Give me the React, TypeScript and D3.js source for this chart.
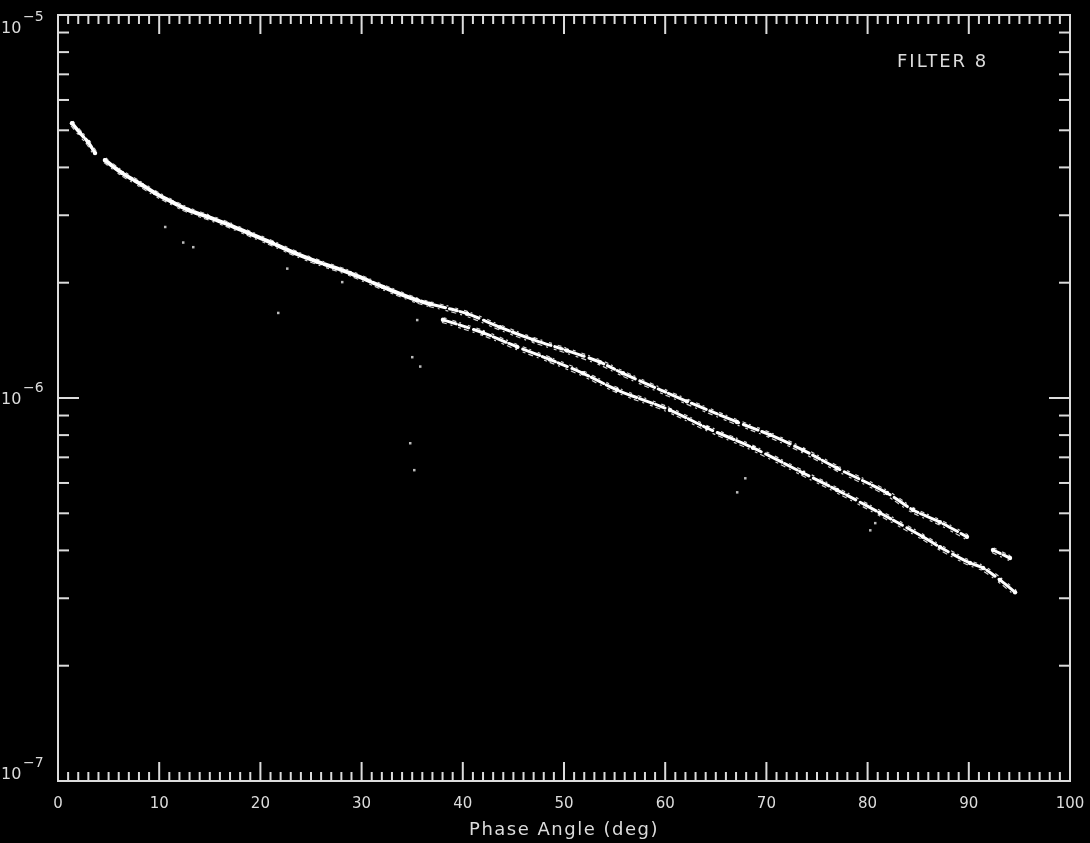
import React from 'react';
import * as d3 from 'd3';

// phase angle (deg), reflectance
const trunkHead: [number, number][] = [
  [1.38, 5.22e-6], [2.17, 4.92e-6], [2.96, 4.66e-6], [3.66, 4.36e-6]
];
const trunkMain: [number, number][] = [
  [4.64, 4.18e-6], [6.32, 3.87e-6], [8.3, 3.6e-6], [9.58, 3.43e-6], [11.26, 3.25e-6],
  [12.85, 3.1e-6], [14.82, 2.97e-6], [16.8, 2.84e-6], [18.77, 2.7e-6], [21.15, 2.54e-6],
  [23.42, 2.39e-6], [25.59, 2.27e-6], [28.85, 2.12e-6], [32.11, 1.95e-6], [35.47, 1.8e-6],
  [36.76, 1.76e-6]
];
const upperBranch: [number, number][] = [
  [36.76, 1.76e-6], [40.42, 1.66e-6], [43.68, 1.53e-6], [46.94, 1.42e-6], [50.3, 1.33e-6],
  [53.56, 1.24e-6], [55.83, 1.16e-6], [62.15, 9.8e-7], [67.09, 8.66e-7], [70.36, 8.01e-7],
  [73.62, 7.31e-7], [76.98, 6.56e-7], [81.92, 5.65e-7], [84.49, 5.1e-7], [87.15, 4.74e-7],
  [89.82, 4.34e-7]
];
const upperTail: [number, number][] = [[92.39, 4.01e-7], [94.07, 3.82e-7]];
const lowerBranch: [number, number][] = [
  [38.04, 1.6e-6], [42.0, 1.48e-6], [45.36, 1.36e-6], [48.62, 1.26e-6], [51.88, 1.16e-6],
  [55.24, 1.05e-6], [60.47, 9.3e-7], [64.13, 8.35e-7], [68.68, 7.41e-7], [73.62, 6.37e-7],
  [76.98, 5.75e-7], [81.23, 5.01e-7], [85.47, 4.34e-7], [87.15, 4.08e-7], [90.12, 3.71e-7],
  [91.4, 3.6e-7], [93.08, 3.35e-7], [94.57, 3.11e-7]
];
const strays: [number, number][] = [
  [10.57, 2.8e-6], [12.35, 2.55e-6], [13.34, 2.48e-6], [22.63, 2.18e-6], [28.06, 2.01e-6],
  [21.74, 1.67e-6], [35.47, 1.6e-6], [34.98, 1.28e-6], [35.77, 1.21e-6], [34.78, 7.63e-7],
  [35.18, 6.49e-7], [67.89, 6.18e-7], [67.09, 5.68e-7], [80.24, 4.52e-7], [80.73, 4.72e-7]
];

const xMajor = [0, 10, 20, 30, 40, 50, 60, 70, 80, 90, 100];
const yMajor = [1e-5, 1e-6, 1e-7];
const yLabels = ['−5', '−6', '−7'];

const W = 1090, H = 843;
const left = 58, right = 1070, top = 15, bottom = 781;
const fg = '#dcdcdc';

export default function App() {
  const x = d3.scaleLinear().domain([0, 100]).range([left, right]);
  const y = d3.scaleLog().domain([1e-7, 1e-5]).range([bottom, top]);
  const line = d3.line<[number, number]>().x(d => x(d[0])).y(d => y(d[1])).curve(d3.curveCatmullRom);

  const xMinor = d3.range(0, 101, 1);
  const yMinor = y.ticks();

  const seg = (pts: [number, number][], w: number, dash: string, key: string) => {
    const d = line(pts) || '';
    return (
      <g key={key}>
        <path d={d} fill="none" stroke="#fff" strokeWidth={w} strokeDasharray={dash} strokeLinecap="round" />
        <path d={d} fill="none" stroke="#d0d0d0" strokeWidth={1.2} transform="translate(-1,2.5)" strokeDasharray="5 4 2 6 3 3" />
        <path d={d} fill="none" stroke="#d0d0d0" strokeWidth={1.2} transform="translate(1,-2)" strokeDasharray="3 6 4 3 2 7" />
        {pts.map((p, i) => (
          <circle key={i} cx={x(p[0])} cy={y(p[1])} r={2.2} fill="#fff" />
        ))}
      </g>
    );
  };

  return (
    <div style={{ position: 'absolute', left: 0, top: 0 }}>
      <svg width={W} height={H} style={{ display: 'block', background: '#000' }}>
        <defs>
          <filter id="soft" x="-5%" y="-5%" width="110%" height="110%">
            <feGaussianBlur stdDeviation={0.45} />
          </filter>
        </defs>
        <rect width={W} height={H} fill="#000" />
        <g filter="url(#soft)">
          <rect x={left} y={top} width={right - left} height={bottom - top} fill="none" stroke={fg} strokeWidth={2} />
          {xMinor.map(v => {
            const major = v % 10 === 0;
            const len = major ? 19 : 9;
            return (
              <g key={'x' + v} stroke={fg} strokeWidth={2}>
                <line x1={x(v)} x2={x(v)} y1={bottom} y2={bottom - len} />
                <line x1={x(v)} x2={x(v)} y1={top} y2={top + len} />
              </g>
            );
          })}
          {yMinor.map(v => {
            const major = yMajor.some(m => Math.abs(m - v) / m < 1e-6);
            const len = major ? 21 : 11;
            return (
              <g key={'y' + v} stroke={fg} strokeWidth={2}>
                <line x1={left} x2={left + len} y1={y(v)} y2={y(v)} />
                <line x1={right} x2={right - len} y1={y(v)} y2={y(v)} />
              </g>
            );
          })}
          <g fontFamily="DejaVu Sans, sans-serif" fill={fg}>
            {xMajor.map(v => (
              <text key={'xl' + v} x={x(v)} y={808} fontSize={15} textAnchor="middle">{v}</text>
            ))}
            {yMajor.map((v, i) => {
              const cy = Math.min(Math.max(y(v), 27), 773);
              return (
                <g key={'yl' + v}>
                  <text x={1} y={cy + 6} fontSize={16} textAnchor="start">10</text>
                  <text x={23} y={cy - 6} fontSize={14} textAnchor="start">{yLabels[i]}</text>
                </g>
              );
            })}
            <text x={x(50)} y={835} fontSize={18} letterSpacing={1.5} textAnchor="middle">Phase Angle (deg)</text>
            <text x={897} y={67} fontSize={18} letterSpacing={2}>FILTER 8</text>
          </g>
          <g>
            {seg(trunkHead, 3.5, '10 2 6 3', 'th')}
            {seg(trunkMain, 4, '22 2 9 3 14 2', 'tm')}
            {seg(upperBranch, 3, '16 4 8 3 20 5', 'ub')}
            {seg(upperTail, 3, '8 3', 'ut')}
            {seg(lowerBranch, 3, '14 3 10 5 18 3', 'lb')}
            {strays.map((d, i) => (
              <rect key={'s' + i} x={x(d[0]) - 1} y={y(d[1]) - 1} width={2.5} height={2.5} fill="#bbb" />
            ))}
          </g>
        </g>
      </svg>
    </div>
  );
}
